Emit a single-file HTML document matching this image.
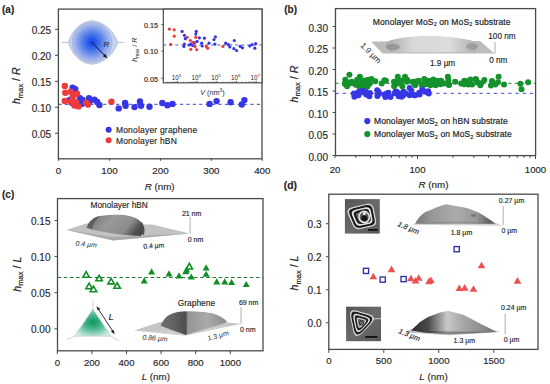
<!DOCTYPE html>
<html><head><meta charset="utf-8"><style>
html,body{margin:0;padding:0;background:#fff;}
svg{display:block;font-family:"Liberation Sans", sans-serif;}
</style></head><body>
<svg width="550" height="384" viewBox="0 0 550 384">
<rect width="550" height="384" fill="#fff"/>
<line x1="58.40" y1="104.30" x2="262.00" y2="104.30" stroke="#3a44d0" stroke-width="1.0" stroke-dasharray="3.2 3.2"/>
<circle cx="72.60" cy="87.70" r="3.2" fill="#3636e4" />
<circle cx="75.30" cy="89.10" r="3.2" fill="#3636e4" />
<circle cx="69.80" cy="100.00" r="3.2" fill="#3636e4" />
<circle cx="71.70" cy="102.80" r="3.2" fill="#3636e4" />
<circle cx="79.90" cy="98.20" r="3.2" fill="#3636e4" />
<circle cx="82.60" cy="100.00" r="3.2" fill="#3636e4" />
<circle cx="89.00" cy="98.20" r="3.2" fill="#3636e4" />
<circle cx="89.90" cy="100.90" r="3.2" fill="#3636e4" />
<circle cx="94.40" cy="99.60" r="3.2" fill="#3636e4" />
<circle cx="97.20" cy="101.90" r="3.2" fill="#3636e4" />
<circle cx="99.40" cy="105.00" r="3.2" fill="#3636e4" />
<circle cx="81.70" cy="104.10" r="3.2" fill="#3636e4" />
<circle cx="64.80" cy="85.90" r="3.2" fill="#ee3a3a" />
<circle cx="65.30" cy="92.80" r="3.2" fill="#ee3a3a" />
<circle cx="64.80" cy="100.90" r="3.2" fill="#ee3a3a" />
<circle cx="70.80" cy="91.80" r="3.2" fill="#ee3a3a" />
<circle cx="73.90" cy="94.60" r="3.2" fill="#ee3a3a" />
<circle cx="77.10" cy="93.70" r="3.2" fill="#ee3a3a" />
<circle cx="72.60" cy="97.30" r="3.2" fill="#ee3a3a" />
<circle cx="75.80" cy="102.30" r="3.2" fill="#ee3a3a" />
<circle cx="74.40" cy="105.50" r="3.2" fill="#ee3a3a" />
<circle cx="118.70" cy="108.40" r="3.2" fill="#3636e4" />
<circle cx="125.10" cy="103.00" r="3.2" fill="#3636e4" />
<circle cx="125.60" cy="105.80" r="3.2" fill="#3636e4" />
<circle cx="134.50" cy="107.10" r="3.2" fill="#3636e4" />
<circle cx="140.00" cy="101.40" r="3.2" fill="#3636e4" />
<circle cx="141.00" cy="105.80" r="3.2" fill="#3636e4" />
<circle cx="149.50" cy="106.80" r="3.2" fill="#3636e4" />
<circle cx="162.30" cy="103.00" r="3.2" fill="#3636e4" />
<circle cx="167.40" cy="105.20" r="3.2" fill="#3636e4" />
<circle cx="172.50" cy="103.90" r="3.2" fill="#3636e4" />
<circle cx="209.60" cy="103.90" r="3.2" fill="#3636e4" />
<circle cx="216.60" cy="101.10" r="3.2" fill="#3636e4" />
<circle cx="230.60" cy="102.30" r="3.2" fill="#3636e4" />
<circle cx="241.80" cy="104.50" r="3.2" fill="#3636e4" />
<circle cx="244.40" cy="100.10" r="3.2" fill="#3636e4" />
<circle cx="78.50" cy="106.40" r="3.2" fill="#ee3a3a" />
<circle cx="86.20" cy="102.80" r="3.2" fill="#ee3a3a" />
<circle cx="88.00" cy="104.60" r="3.2" fill="#ee3a3a" />
<circle cx="70.80" cy="101.90" r="3.2" fill="#ee3a3a" />
<circle cx="111.40" cy="101.70" r="3.2" fill="#ee3a3a" />
<rect x="58.40" y="9.10" width="203.60" height="149.70" fill="none" stroke="#4a4a4a" stroke-width="1.3"/>
<line x1="55.00" y1="133.23" x2="58.40" y2="133.23" stroke="#4a4a4a" stroke-width="1.0" />
<text x="51.20" y="137.73" font-size="10" text-anchor="end" fill="#262626" stroke="#262626" stroke-width="0.15" >0.05</text>
<line x1="55.00" y1="107.26" x2="58.40" y2="107.26" stroke="#4a4a4a" stroke-width="1.0" />
<text x="51.20" y="111.76" font-size="10" text-anchor="end" fill="#262626" stroke="#262626" stroke-width="0.15" >0.10</text>
<line x1="55.00" y1="81.29" x2="58.40" y2="81.29" stroke="#4a4a4a" stroke-width="1.0" />
<text x="51.20" y="85.79" font-size="10" text-anchor="end" fill="#262626" stroke="#262626" stroke-width="0.15" >0.15</text>
<line x1="55.00" y1="55.32" x2="58.40" y2="55.32" stroke="#4a4a4a" stroke-width="1.0" />
<text x="51.20" y="59.82" font-size="10" text-anchor="end" fill="#262626" stroke="#262626" stroke-width="0.15" >0.20</text>
<line x1="55.00" y1="29.35" x2="58.40" y2="29.35" stroke="#4a4a4a" stroke-width="1.0" />
<text x="51.20" y="33.85" font-size="10" text-anchor="end" fill="#262626" stroke="#262626" stroke-width="0.15" >0.25</text>
<line x1="58.60" y1="158.80" x2="58.60" y2="160.80" stroke="#4a4a4a" stroke-width="1.0" />
<text x="58.60" y="174.30" font-size="9.8" text-anchor="middle" fill="#262626" stroke="#262626" stroke-width="0.15" >0</text>
<line x1="109.53" y1="158.80" x2="109.53" y2="160.80" stroke="#4a4a4a" stroke-width="1.0" />
<text x="109.53" y="174.30" font-size="9.8" text-anchor="middle" fill="#262626" stroke="#262626" stroke-width="0.15" >100</text>
<line x1="160.46" y1="158.80" x2="160.46" y2="160.80" stroke="#4a4a4a" stroke-width="1.0" />
<text x="160.46" y="174.30" font-size="9.8" text-anchor="middle" fill="#262626" stroke="#262626" stroke-width="0.15" >200</text>
<line x1="211.39" y1="158.80" x2="211.39" y2="160.80" stroke="#4a4a4a" stroke-width="1.0" />
<text x="211.39" y="174.30" font-size="9.8" text-anchor="middle" fill="#262626" stroke="#262626" stroke-width="0.15" >300</text>
<line x1="262.32" y1="158.80" x2="262.32" y2="160.80" stroke="#4a4a4a" stroke-width="1.0" />
<text x="262.32" y="174.30" font-size="9.8" text-anchor="middle" fill="#262626" stroke="#262626" stroke-width="0.15" >400</text>
<text x="159.60" y="189.50" font-size="9.8" text-anchor="middle" fill="#262626" stroke="#262626" stroke-width="0.15" ><tspan font-style="italic">R</tspan> (nm)</text>
<text transform="translate(20.3,85.7) rotate(-90)" font-size="10.6" text-anchor="middle" fill="#262626" stroke="#262626" stroke-width="0.2"><tspan font-style="italic">h</tspan><tspan font-size="7.6" dy="2.4">max</tspan><tspan dy="-2.4"> / </tspan><tspan font-style="italic">R</tspan></text>
<text x="2.00" y="13.30" font-size="10" text-anchor="start" fill="#262626" stroke="#262626" stroke-width="0.15" font-weight="bold">(a)</text>
<circle cx="108.60" cy="129.80" r="3.0" fill="#3636e4" />
<circle cx="108.60" cy="140.30" r="3.0" fill="#ee3a3a" />
<text x="115.90" y="133.00" font-size="8.5" text-anchor="start" fill="#262626" stroke="#262626" stroke-width="0.15" letter-spacing="0.2">Monolayer graphene</text>
<text x="115.90" y="143.50" font-size="8.5" text-anchor="start" fill="#262626" stroke="#262626" stroke-width="0.15" letter-spacing="0.2">Monolayer hBN</text>
<defs>
<radialGradient id="gblue" cx="0.5" cy="0.5" r="0.5">
<stop offset="0" stop-color="#0c40e8"/><stop offset="0.5" stop-color="#5580ea"/><stop offset="0.85" stop-color="#9ab0ec"/><stop offset="1" stop-color="#b4c4ee"/>
</radialGradient>
<radialGradient id="ggreen" cx="0.5" cy="0.62" r="0.55">
<stop offset="0" stop-color="#0c9a5a"/><stop offset="0.6" stop-color="#55bb99"/><stop offset="1" stop-color="#c4e8dc"/>
</radialGradient>
</defs>
<path d="M68.4,42.4 C71.5,33 78,22 92.1,20.7 C106,22 114.5,33 117.9,42.4 C114.5,52 106,63 92.1,64.3 C78,63 71.5,52 68.4,42.4 Z" fill="#c4d2f2" stroke="#b4c0dc" stroke-width="0.9"/>
<path d="M61.5,42.4 L68.4,42.4 M117.9,42.4 L124.5,42.4" stroke="#b8c4dc" stroke-width="1"/>
<circle cx="92.10" cy="42.40" r="19.8" fill="url(#gblue)" stroke="#a8b6d8" stroke-width="1.0"/>
<line x1="91.8" y1="42.4" x2="105" y2="55.8" stroke="#111" stroke-width="1.0"/>
<path d="M107.3,58.2 L102.9,56.2 L105.3,53.8 Z" fill="#111"/>
<text x="103.5" y="47" font-size="8" font-style="italic" fill="#1a1a2a">R</text>
<rect x="163.3" y="9.1" width="98.69999999999999" height="73.7" fill="#fff" stroke="#4a4a4a" stroke-width="1.2"/>
<line x1="163.30" y1="45.00" x2="262.00" y2="45.00" stroke="#3a44d0" stroke-width="0.9" stroke-dasharray="3 3"/>
<circle cx="169.40" cy="29.10" r="1.6" fill="#ee3a3a" />
<circle cx="174.20" cy="29.80" r="1.6" fill="#ee3a3a" />
<circle cx="174.20" cy="36.20" r="1.6" fill="#ee3a3a" />
<circle cx="170.70" cy="44.40" r="1.6" fill="#ee3a3a" />
<circle cx="187.10" cy="37.30" r="1.6" fill="#ee3a3a" />
<circle cx="190.30" cy="40.50" r="1.6" fill="#ee3a3a" />
<circle cx="195.80" cy="37.30" r="1.6" fill="#ee3a3a" />
<circle cx="182.10" cy="31.40" r="1.6" fill="#3636e4" />
<circle cx="184.40" cy="35.30" r="1.6" fill="#3636e4" />
<circle cx="185.30" cy="38.70" r="1.6" fill="#3636e4" />
<circle cx="184.40" cy="44.10" r="1.6" fill="#3636e4" />
<circle cx="183.90" cy="46.40" r="1.6" fill="#3636e4" />
<circle cx="196.20" cy="31.40" r="1.6" fill="#3636e4" />
<circle cx="195.80" cy="34.10" r="1.6" fill="#3636e4" />
<circle cx="199.40" cy="37.80" r="1.6" fill="#3636e4" />
<circle cx="204.40" cy="38.20" r="1.6" fill="#3636e4" />
<circle cx="197.10" cy="41.40" r="1.6" fill="#3636e4" />
<circle cx="194.40" cy="42.80" r="1.6" fill="#3636e4" />
<circle cx="190.80" cy="44.10" r="1.6" fill="#3636e4" />
<circle cx="201.70" cy="43.20" r="1.6" fill="#3636e4" />
<circle cx="202.20" cy="46.00" r="1.6" fill="#3636e4" />
<circle cx="209.00" cy="43.20" r="1.6" fill="#3636e4" />
<circle cx="215.40" cy="36.80" r="1.6" fill="#3636e4" />
<circle cx="214.00" cy="39.60" r="1.6" fill="#3636e4" />
<circle cx="214.90" cy="44.10" r="1.6" fill="#3636e4" />
<circle cx="189.00" cy="45.00" r="1.6" fill="#3636e4" />
<circle cx="192.60" cy="45.50" r="1.6" fill="#3636e4" />
<circle cx="225.70" cy="43.20" r="1.6" fill="#3636e4" />
<circle cx="228.40" cy="44.60" r="1.6" fill="#3636e4" />
<circle cx="229.80" cy="46.90" r="1.6" fill="#3636e4" />
<circle cx="234.30" cy="40.50" r="1.6" fill="#3636e4" />
<circle cx="233.90" cy="48.70" r="1.6" fill="#3636e4" />
<circle cx="236.60" cy="50.50" r="1.6" fill="#3636e4" />
<circle cx="240.20" cy="46.40" r="1.6" fill="#3636e4" />
<circle cx="242.50" cy="47.80" r="1.6" fill="#3636e4" />
<circle cx="249.80" cy="46.00" r="1.6" fill="#3636e4" />
<circle cx="252.10" cy="44.60" r="1.6" fill="#3636e4" />
<circle cx="255.70" cy="43.70" r="1.6" fill="#3636e4" />
<circle cx="254.80" cy="48.20" r="1.6" fill="#3636e4" />
<circle cx="190.80" cy="49.30" r="1.6" fill="#ee3a3a" />
<circle cx="196.70" cy="49.60" r="1.6" fill="#ee3a3a" />
<circle cx="194.90" cy="46.40" r="1.6" fill="#ee3a3a" />
<circle cx="206.30" cy="46.40" r="1.6" fill="#ee3a3a" />
<circle cx="207.60" cy="48.20" r="1.6" fill="#ee3a3a" />
<circle cx="193.00" cy="42.30" r="1.6" fill="#ee3a3a" />
<circle cx="222.90" cy="46.40" r="1.6" fill="#ee3a3a" />
<line x1="161.30" y1="78.30" x2="163.30" y2="78.30" stroke="#4a4a4a" stroke-width="0.9" />
<text x="158.00" y="81.60" font-size="7.2" text-anchor="end" fill="#262626" stroke="#262626" stroke-width="0.15" >0.05</text>
<line x1="161.30" y1="51.10" x2="163.30" y2="51.10" stroke="#4a4a4a" stroke-width="0.9" />
<text x="158.00" y="54.40" font-size="7.2" text-anchor="end" fill="#262626" stroke="#262626" stroke-width="0.15" >0.10</text>
<line x1="161.30" y1="24.60" x2="163.30" y2="24.60" stroke="#4a4a4a" stroke-width="0.9" />
<text x="158.00" y="27.90" font-size="7.2" text-anchor="end" fill="#262626" stroke="#262626" stroke-width="0.15" >0.15</text>
<line x1="177.50" y1="82.80" x2="177.50" y2="80.80" stroke="#4a4a4a" stroke-width="0.8" />
<line x1="183.43" y1="82.80" x2="183.43" y2="81.60" stroke="#4a4a4a" stroke-width="0.6" />
<line x1="186.90" y1="82.80" x2="186.90" y2="81.60" stroke="#4a4a4a" stroke-width="0.6" />
<line x1="189.36" y1="82.80" x2="189.36" y2="81.60" stroke="#4a4a4a" stroke-width="0.6" />
<line x1="191.27" y1="82.80" x2="191.27" y2="81.60" stroke="#4a4a4a" stroke-width="0.6" />
<line x1="192.83" y1="82.80" x2="192.83" y2="81.60" stroke="#4a4a4a" stroke-width="0.6" />
<line x1="194.15" y1="82.80" x2="194.15" y2="81.60" stroke="#4a4a4a" stroke-width="0.6" />
<line x1="195.29" y1="82.80" x2="195.29" y2="81.60" stroke="#4a4a4a" stroke-width="0.6" />
<line x1="196.30" y1="82.80" x2="196.30" y2="81.60" stroke="#4a4a4a" stroke-width="0.6" />
<text x="176.50" y="79.9" font-size="6.3" text-anchor="middle" fill="#262626">10<tspan font-size="4.3" dy="-2.8">3</tspan></text>
<line x1="197.20" y1="82.80" x2="197.20" y2="80.80" stroke="#4a4a4a" stroke-width="0.8" />
<line x1="203.13" y1="82.80" x2="203.13" y2="81.60" stroke="#4a4a4a" stroke-width="0.6" />
<line x1="206.60" y1="82.80" x2="206.60" y2="81.60" stroke="#4a4a4a" stroke-width="0.6" />
<line x1="209.06" y1="82.80" x2="209.06" y2="81.60" stroke="#4a4a4a" stroke-width="0.6" />
<line x1="210.97" y1="82.80" x2="210.97" y2="81.60" stroke="#4a4a4a" stroke-width="0.6" />
<line x1="212.53" y1="82.80" x2="212.53" y2="81.60" stroke="#4a4a4a" stroke-width="0.6" />
<line x1="213.85" y1="82.80" x2="213.85" y2="81.60" stroke="#4a4a4a" stroke-width="0.6" />
<line x1="214.99" y1="82.80" x2="214.99" y2="81.60" stroke="#4a4a4a" stroke-width="0.6" />
<line x1="216.00" y1="82.80" x2="216.00" y2="81.60" stroke="#4a4a4a" stroke-width="0.6" />
<text x="196.20" y="79.9" font-size="6.3" text-anchor="middle" fill="#262626">10<tspan font-size="4.3" dy="-2.8">4</tspan></text>
<line x1="216.90" y1="82.80" x2="216.90" y2="80.80" stroke="#4a4a4a" stroke-width="0.8" />
<line x1="222.83" y1="82.80" x2="222.83" y2="81.60" stroke="#4a4a4a" stroke-width="0.6" />
<line x1="226.30" y1="82.80" x2="226.30" y2="81.60" stroke="#4a4a4a" stroke-width="0.6" />
<line x1="228.76" y1="82.80" x2="228.76" y2="81.60" stroke="#4a4a4a" stroke-width="0.6" />
<line x1="230.67" y1="82.80" x2="230.67" y2="81.60" stroke="#4a4a4a" stroke-width="0.6" />
<line x1="232.23" y1="82.80" x2="232.23" y2="81.60" stroke="#4a4a4a" stroke-width="0.6" />
<line x1="233.55" y1="82.80" x2="233.55" y2="81.60" stroke="#4a4a4a" stroke-width="0.6" />
<line x1="234.69" y1="82.80" x2="234.69" y2="81.60" stroke="#4a4a4a" stroke-width="0.6" />
<line x1="235.70" y1="82.80" x2="235.70" y2="81.60" stroke="#4a4a4a" stroke-width="0.6" />
<text x="215.90" y="79.9" font-size="6.3" text-anchor="middle" fill="#262626">10<tspan font-size="4.3" dy="-2.8">5</tspan></text>
<line x1="236.60" y1="82.80" x2="236.60" y2="80.80" stroke="#4a4a4a" stroke-width="0.8" />
<line x1="242.53" y1="82.80" x2="242.53" y2="81.60" stroke="#4a4a4a" stroke-width="0.6" />
<line x1="246.00" y1="82.80" x2="246.00" y2="81.60" stroke="#4a4a4a" stroke-width="0.6" />
<line x1="248.46" y1="82.80" x2="248.46" y2="81.60" stroke="#4a4a4a" stroke-width="0.6" />
<line x1="250.37" y1="82.80" x2="250.37" y2="81.60" stroke="#4a4a4a" stroke-width="0.6" />
<line x1="251.93" y1="82.80" x2="251.93" y2="81.60" stroke="#4a4a4a" stroke-width="0.6" />
<line x1="253.25" y1="82.80" x2="253.25" y2="81.60" stroke="#4a4a4a" stroke-width="0.6" />
<line x1="254.39" y1="82.80" x2="254.39" y2="81.60" stroke="#4a4a4a" stroke-width="0.6" />
<line x1="255.40" y1="82.80" x2="255.40" y2="81.60" stroke="#4a4a4a" stroke-width="0.6" />
<text x="235.60" y="79.9" font-size="6.3" text-anchor="middle" fill="#262626">10<tspan font-size="4.3" dy="-2.8">6</tspan></text>
<line x1="256.30" y1="82.80" x2="256.30" y2="80.80" stroke="#4a4a4a" stroke-width="0.8" />
<text x="255.30" y="79.9" font-size="6.3" text-anchor="middle" fill="#262626">10<tspan font-size="4.3" dy="-2.8">7</tspan></text>
<line x1="167.20" y1="82.80" x2="167.20" y2="81.60" stroke="#4a4a4a" stroke-width="0.6" />
<line x1="169.66" y1="82.80" x2="169.66" y2="81.60" stroke="#4a4a4a" stroke-width="0.6" />
<line x1="171.57" y1="82.80" x2="171.57" y2="81.60" stroke="#4a4a4a" stroke-width="0.6" />
<line x1="173.13" y1="82.80" x2="173.13" y2="81.60" stroke="#4a4a4a" stroke-width="0.6" />
<line x1="174.45" y1="82.80" x2="174.45" y2="81.60" stroke="#4a4a4a" stroke-width="0.6" />
<line x1="175.59" y1="82.80" x2="175.59" y2="81.60" stroke="#4a4a4a" stroke-width="0.6" />
<line x1="176.60" y1="82.80" x2="176.60" y2="81.60" stroke="#4a4a4a" stroke-width="0.6" />
<text x="212.5" y="95" font-size="7.2" text-anchor="middle" fill="#262626"><tspan font-style="italic">V</tspan> (nm<tspan font-size="5" dy="-3">3</tspan><tspan dy="3">)</tspan></text>
<text transform="translate(137.3,49.6) rotate(-90)" font-size="7.2" text-anchor="middle" fill="#262626"><tspan font-style="italic">h</tspan><tspan font-size="4.8" dy="1.6">max</tspan><tspan dy="-1.6"> / </tspan><tspan font-style="italic">R</tspan></text>
<line x1="335.50" y1="83.30" x2="535.60" y2="83.30" stroke="#1d8a3a" stroke-width="1.0" stroke-dasharray="3.2 3.2"/>
<line x1="335.50" y1="93.30" x2="535.60" y2="93.30" stroke="#3a44d0" stroke-width="1.0" stroke-dasharray="3.2 4"/>
<circle cx="353.90" cy="93.50" r="3.0" fill="#3636e4" />
<circle cx="354.40" cy="96.70" r="3.0" fill="#3636e4" />
<circle cx="358.50" cy="95.30" r="3.0" fill="#3636e4" />
<circle cx="361.70" cy="89.90" r="3.0" fill="#3636e4" />
<circle cx="365.30" cy="88.90" r="3.0" fill="#3636e4" />
<circle cx="366.20" cy="94.40" r="3.0" fill="#3636e4" />
<circle cx="369.90" cy="93.00" r="3.0" fill="#3636e4" />
<circle cx="369.40" cy="96.20" r="3.0" fill="#3636e4" />
<circle cx="377.20" cy="90.30" r="3.0" fill="#3636e4" />
<circle cx="379.00" cy="93.50" r="3.0" fill="#3636e4" />
<circle cx="384.40" cy="94.40" r="3.0" fill="#3636e4" />
<circle cx="385.40" cy="97.10" r="3.0" fill="#3636e4" />
<circle cx="386.80" cy="93.50" r="3.0" fill="#3636e4" />
<circle cx="390.50" cy="97.10" r="3.0" fill="#3636e4" />
<circle cx="396.80" cy="91.70" r="3.0" fill="#3636e4" />
<circle cx="398.70" cy="96.20" r="3.0" fill="#3636e4" />
<circle cx="403.20" cy="95.30" r="3.0" fill="#3636e4" />
<circle cx="409.60" cy="88.00" r="3.0" fill="#3636e4" />
<circle cx="411.40" cy="90.80" r="3.0" fill="#3636e4" />
<circle cx="409.60" cy="95.30" r="3.0" fill="#3636e4" />
<circle cx="415.10" cy="95.30" r="3.0" fill="#3636e4" />
<circle cx="419.60" cy="94.40" r="3.0" fill="#3636e4" />
<circle cx="422.30" cy="88.90" r="3.0" fill="#3636e4" />
<circle cx="425.10" cy="91.70" r="3.0" fill="#3636e4" />
<circle cx="428.70" cy="93.50" r="3.0" fill="#3636e4" />
<circle cx="378.61" cy="91.91" r="3.0" fill="#3636e4" />
<circle cx="403.47" cy="91.43" r="3.0" fill="#3636e4" />
<circle cx="394.73" cy="93.19" r="3.0" fill="#3636e4" />
<circle cx="358.41" cy="94.04" r="3.0" fill="#3636e4" />
<circle cx="356.85" cy="93.60" r="3.0" fill="#3636e4" />
<circle cx="359.31" cy="91.54" r="3.0" fill="#3636e4" />
<circle cx="386.26" cy="95.96" r="3.0" fill="#3636e4" />
<circle cx="363.41" cy="92.34" r="3.0" fill="#3636e4" />
<circle cx="401.68" cy="96.69" r="3.0" fill="#3636e4" />
<circle cx="397.86" cy="93.38" r="3.0" fill="#3636e4" />
<circle cx="428.20" cy="91.28" r="3.0" fill="#3636e4" />
<circle cx="419.24" cy="92.74" r="3.0" fill="#3636e4" />
<circle cx="364.96" cy="91.71" r="3.0" fill="#3636e4" />
<circle cx="377.44" cy="95.90" r="3.0" fill="#3636e4" />
<circle cx="367.74" cy="94.49" r="3.0" fill="#3636e4" />
<circle cx="402.56" cy="93.23" r="3.0" fill="#3636e4" />
<circle cx="395.63" cy="91.38" r="3.0" fill="#3636e4" />
<circle cx="358.53" cy="92.24" r="3.0" fill="#3636e4" />
<circle cx="405.71" cy="93.57" r="3.0" fill="#3636e4" />
<circle cx="377.88" cy="94.51" r="3.0" fill="#3636e4" />
<circle cx="388.44" cy="92.80" r="3.0" fill="#3636e4" />
<circle cx="414.37" cy="95.19" r="3.0" fill="#3636e4" />
<circle cx="349.40" cy="74.80" r="3.0" fill="#14922c" />
<circle cx="359.90" cy="76.70" r="3.0" fill="#14922c" />
<circle cx="345.30" cy="79.80" r="3.0" fill="#14922c" />
<circle cx="344.80" cy="83.50" r="3.0" fill="#14922c" />
<circle cx="347.10" cy="86.20" r="3.0" fill="#14922c" />
<circle cx="351.70" cy="81.70" r="3.0" fill="#14922c" />
<circle cx="354.80" cy="83.50" r="3.0" fill="#14922c" />
<circle cx="357.10" cy="79.80" r="3.0" fill="#14922c" />
<circle cx="360.30" cy="83.00" r="3.0" fill="#14922c" />
<circle cx="363.50" cy="85.30" r="3.0" fill="#14922c" />
<circle cx="368.00" cy="79.80" r="3.0" fill="#14922c" />
<circle cx="369.90" cy="83.50" r="3.0" fill="#14922c" />
<circle cx="375.30" cy="81.20" r="3.0" fill="#14922c" />
<circle cx="381.70" cy="83.50" r="3.0" fill="#14922c" />
<circle cx="384.40" cy="80.30" r="3.0" fill="#14922c" />
<circle cx="385.90" cy="80.80" r="3.0" fill="#14922c" />
<circle cx="397.80" cy="76.70" r="3.0" fill="#14922c" />
<circle cx="405.00" cy="76.70" r="3.0" fill="#14922c" />
<circle cx="395.00" cy="81.70" r="3.0" fill="#14922c" />
<circle cx="401.40" cy="80.80" r="3.0" fill="#14922c" />
<circle cx="406.90" cy="81.70" r="3.0" fill="#14922c" />
<circle cx="394.10" cy="86.20" r="3.0" fill="#14922c" />
<circle cx="402.30" cy="86.20" r="3.0" fill="#14922c" />
<circle cx="414.10" cy="81.70" r="3.0" fill="#14922c" />
<circle cx="418.70" cy="80.80" r="3.0" fill="#14922c" />
<circle cx="424.20" cy="78.90" r="3.0" fill="#14922c" />
<circle cx="428.70" cy="80.80" r="3.0" fill="#14922c" />
<circle cx="433.30" cy="79.40" r="3.0" fill="#14922c" />
<circle cx="415.10" cy="85.30" r="3.0" fill="#14922c" />
<circle cx="421.40" cy="84.40" r="3.0" fill="#14922c" />
<circle cx="430.50" cy="85.30" r="3.0" fill="#14922c" />
<circle cx="432.90" cy="81.70" r="3.0" fill="#14922c" />
<circle cx="435.60" cy="85.30" r="3.0" fill="#14922c" />
<circle cx="437.50" cy="80.80" r="3.0" fill="#14922c" />
<circle cx="441.10" cy="80.80" r="3.0" fill="#14922c" />
<circle cx="443.80" cy="83.50" r="3.0" fill="#14922c" />
<circle cx="447.90" cy="76.70" r="3.0" fill="#14922c" />
<circle cx="448.40" cy="80.30" r="3.0" fill="#14922c" />
<circle cx="448.80" cy="84.80" r="3.0" fill="#14922c" />
<circle cx="455.20" cy="81.70" r="3.0" fill="#14922c" />
<circle cx="461.10" cy="83.50" r="3.0" fill="#14922c" />
<circle cx="465.70" cy="81.20" r="3.0" fill="#14922c" />
<circle cx="470.30" cy="79.40" r="3.0" fill="#14922c" />
<circle cx="468.40" cy="84.40" r="3.0" fill="#14922c" />
<circle cx="472.10" cy="84.40" r="3.0" fill="#14922c" />
<circle cx="475.70" cy="78.90" r="3.0" fill="#14922c" />
<circle cx="477.50" cy="82.60" r="3.0" fill="#14922c" />
<circle cx="480.30" cy="85.30" r="3.0" fill="#14922c" />
<circle cx="481.10" cy="83.30" r="3.0" fill="#14922c" />
<circle cx="484.40" cy="80.00" r="3.0" fill="#14922c" />
<circle cx="492.00" cy="81.10" r="3.0" fill="#14922c" />
<circle cx="490.90" cy="85.50" r="3.0" fill="#14922c" />
<circle cx="498.60" cy="76.70" r="3.0" fill="#14922c" />
<circle cx="498.00" cy="82.20" r="3.0" fill="#14922c" />
<circle cx="495.30" cy="84.40" r="3.0" fill="#14922c" />
<circle cx="504.00" cy="84.40" r="3.0" fill="#14922c" />
<circle cx="520.40" cy="83.80" r="3.0" fill="#14922c" />
<circle cx="521.50" cy="89.30" r="3.0" fill="#14922c" />
<circle cx="528.10" cy="82.20" r="3.0" fill="#14922c" />
<circle cx="350.83" cy="83.17" r="3.0" fill="#14922c" />
<circle cx="358.71" cy="85.88" r="3.0" fill="#14922c" />
<circle cx="364.42" cy="80.59" r="3.0" fill="#14922c" />
<circle cx="371.44" cy="79.06" r="3.0" fill="#14922c" />
<circle cx="355.71" cy="84.81" r="3.0" fill="#14922c" />
<circle cx="348.26" cy="82.40" r="3.0" fill="#14922c" />
<circle cx="345.10" cy="84.01" r="3.0" fill="#14922c" />
<circle cx="365.41" cy="83.16" r="3.0" fill="#14922c" />
<circle cx="368.51" cy="80.82" r="3.0" fill="#14922c" />
<circle cx="363.47" cy="83.35" r="3.0" fill="#14922c" />
<circle cx="360.24" cy="82.11" r="3.0" fill="#14922c" />
<circle cx="367.52" cy="86.50" r="3.0" fill="#14922c" />
<circle cx="433.72" cy="82.98" r="3.0" fill="#14922c" />
<circle cx="397.34" cy="83.21" r="3.0" fill="#14922c" />
<circle cx="448.95" cy="84.96" r="3.0" fill="#14922c" />
<circle cx="464.33" cy="80.71" r="3.0" fill="#14922c" />
<circle cx="425.95" cy="83.01" r="3.0" fill="#14922c" />
<circle cx="393.99" cy="81.77" r="3.0" fill="#14922c" />
<circle cx="406.79" cy="79.70" r="3.0" fill="#14922c" />
<circle cx="397.19" cy="83.61" r="3.0" fill="#14922c" />
<circle cx="403.38" cy="80.49" r="3.0" fill="#14922c" />
<circle cx="426.40" cy="84.23" r="3.0" fill="#14922c" />
<circle cx="399.09" cy="81.70" r="3.0" fill="#14922c" />
<circle cx="440.35" cy="84.30" r="3.0" fill="#14922c" />
<circle cx="464.10" cy="84.18" r="3.0" fill="#14922c" />
<circle cx="416.50" cy="81.49" r="3.0" fill="#14922c" />
<circle cx="423.57" cy="84.31" r="3.0" fill="#14922c" />
<circle cx="476.28" cy="79.91" r="3.0" fill="#14922c" />
<circle cx="407.51" cy="80.39" r="3.0" fill="#14922c" />
<circle cx="412.53" cy="81.91" r="3.0" fill="#14922c" />
<rect x="335.50" y="8.60" width="200.10" height="147.00" fill="none" stroke="#4a4a4a" stroke-width="1.3"/>
<line x1="332.50" y1="155.50" x2="335.50" y2="155.50" stroke="#4a4a4a" stroke-width="1.0" />
<text x="328.00" y="160.50" font-size="10" text-anchor="end" fill="#262626" stroke="#262626" stroke-width="0.15" >0.00</text>
<line x1="332.50" y1="134.00" x2="335.50" y2="134.00" stroke="#4a4a4a" stroke-width="1.0" />
<text x="328.00" y="139.00" font-size="10" text-anchor="end" fill="#262626" stroke="#262626" stroke-width="0.15" >0.05</text>
<line x1="332.50" y1="112.50" x2="335.50" y2="112.50" stroke="#4a4a4a" stroke-width="1.0" />
<text x="328.00" y="117.50" font-size="10" text-anchor="end" fill="#262626" stroke="#262626" stroke-width="0.15" >0.10</text>
<line x1="332.50" y1="91.00" x2="335.50" y2="91.00" stroke="#4a4a4a" stroke-width="1.0" />
<text x="328.00" y="96.00" font-size="10" text-anchor="end" fill="#262626" stroke="#262626" stroke-width="0.15" >0.15</text>
<line x1="332.50" y1="69.50" x2="335.50" y2="69.50" stroke="#4a4a4a" stroke-width="1.0" />
<text x="328.00" y="74.50" font-size="10" text-anchor="end" fill="#262626" stroke="#262626" stroke-width="0.15" >0.20</text>
<line x1="332.50" y1="48.00" x2="335.50" y2="48.00" stroke="#4a4a4a" stroke-width="1.0" />
<text x="328.00" y="53.00" font-size="10" text-anchor="end" fill="#262626" stroke="#262626" stroke-width="0.15" >0.25</text>
<line x1="332.50" y1="26.50" x2="335.50" y2="26.50" stroke="#4a4a4a" stroke-width="1.0" />
<text x="328.00" y="31.50" font-size="10" text-anchor="end" fill="#262626" stroke="#262626" stroke-width="0.15" >0.30</text>
<line x1="335.02" y1="155.60" x2="335.02" y2="157.90" stroke="#4a4a4a" stroke-width="1.0" />
<line x1="355.80" y1="155.60" x2="355.80" y2="157.90" stroke="#4a4a4a" stroke-width="1.0" />
<line x1="370.54" y1="155.60" x2="370.54" y2="157.90" stroke="#4a4a4a" stroke-width="1.0" />
<line x1="381.98" y1="155.60" x2="381.98" y2="157.90" stroke="#4a4a4a" stroke-width="1.0" />
<line x1="391.32" y1="155.60" x2="391.32" y2="157.90" stroke="#4a4a4a" stroke-width="1.0" />
<line x1="399.22" y1="155.60" x2="399.22" y2="157.90" stroke="#4a4a4a" stroke-width="1.0" />
<line x1="406.06" y1="155.60" x2="406.06" y2="157.90" stroke="#4a4a4a" stroke-width="1.0" />
<line x1="412.10" y1="155.60" x2="412.10" y2="157.90" stroke="#4a4a4a" stroke-width="1.0" />
<line x1="417.50" y1="155.60" x2="417.50" y2="159.10" stroke="#4a4a4a" stroke-width="1.0" />
<line x1="453.02" y1="155.60" x2="453.02" y2="157.90" stroke="#4a4a4a" stroke-width="1.0" />
<line x1="473.80" y1="155.60" x2="473.80" y2="157.90" stroke="#4a4a4a" stroke-width="1.0" />
<line x1="488.54" y1="155.60" x2="488.54" y2="157.90" stroke="#4a4a4a" stroke-width="1.0" />
<line x1="499.98" y1="155.60" x2="499.98" y2="157.90" stroke="#4a4a4a" stroke-width="1.0" />
<line x1="509.32" y1="155.60" x2="509.32" y2="157.90" stroke="#4a4a4a" stroke-width="1.0" />
<line x1="517.22" y1="155.60" x2="517.22" y2="157.90" stroke="#4a4a4a" stroke-width="1.0" />
<line x1="524.06" y1="155.60" x2="524.06" y2="157.90" stroke="#4a4a4a" stroke-width="1.0" />
<line x1="530.10" y1="155.60" x2="530.10" y2="157.90" stroke="#4a4a4a" stroke-width="1.0" />
<line x1="535.50" y1="155.60" x2="535.50" y2="159.10" stroke="#4a4a4a" stroke-width="1.0" />
<text x="335.02" y="173.30" font-size="9.6" text-anchor="middle" fill="#262626" stroke="#262626" stroke-width="0.15" >20</text>
<text x="417.50" y="173.30" font-size="9.6" text-anchor="middle" fill="#262626" stroke="#262626" stroke-width="0.15" >100</text>
<text x="535.50" y="173.30" font-size="9.6" text-anchor="middle" fill="#262626" stroke="#262626" stroke-width="0.15" >1000</text>
<text x="433.50" y="187.60" font-size="9.8" text-anchor="middle" fill="#262626" stroke="#262626" stroke-width="0.15" ><tspan font-style="italic">R</tspan> (nm)</text>
<text transform="translate(297.8,84) rotate(-90)" font-size="10.6" text-anchor="middle" fill="#262626" stroke="#262626" stroke-width="0.2"><tspan font-style="italic">h</tspan><tspan font-size="7.6" dy="2.4">max</tspan><tspan dy="-2.4"> / </tspan><tspan font-style="italic">R</tspan></text>
<text x="284.20" y="13.00" font-size="10" text-anchor="start" fill="#262626" stroke="#262626" stroke-width="0.15" font-weight="bold">(b)</text>
<circle cx="367.30" cy="121.10" r="3.1" fill="#3636e4" />
<circle cx="367.30" cy="134.10" r="3.1" fill="#14922c" />
<text x="374" y="124.1" font-size="8.5" letter-spacing="0.1" fill="#262626" stroke="#262626" stroke-width="0.2">Monolayer MoS<tspan font-size="5.5" dy="1.6">2</tspan><tspan dy="-1.6"> on hBN substrate</tspan></text>
<text x="374" y="137.1" font-size="8.5" letter-spacing="0.1" fill="#262626" stroke="#262626" stroke-width="0.2">Monolayer MoS<tspan font-size="5.5" dy="1.6">2</tspan><tspan dy="-1.6"> on MoS</tspan><tspan font-size="5.5" dy="1.6">2</tspan><tspan dy="-1.6"> substrate</tspan></text>
<text x="372.8" y="24.8" font-size="8.5" letter-spacing="0.1" fill="#262626" stroke="#262626" stroke-width="0.2">Monolayer MoS<tspan font-size="5.5" dy="1.6">2</tspan><tspan dy="-1.6"> on MoS</tspan><tspan font-size="5.5" dy="1.6">2</tspan><tspan dy="-1.6"> substrate</tspan></text>
<line x1="57.50" y1="277.50" x2="263.00" y2="277.50" stroke="#1f7a34" stroke-width="1.0" stroke-dasharray="3.6 2.6"/>
<rect x="57.50" y="198.60" width="205.50" height="152.20" fill="none" stroke="#4a4a4a" stroke-width="1.3"/>
<line x1="54.50" y1="328.80" x2="57.50" y2="328.80" stroke="#4a4a4a" stroke-width="1.0" />
<text x="50.50" y="333.40" font-size="10" text-anchor="end" fill="#262626" stroke="#262626" stroke-width="0.15" >0.00</text>
<line x1="54.50" y1="292.70" x2="57.50" y2="292.70" stroke="#4a4a4a" stroke-width="1.0" />
<text x="50.50" y="297.30" font-size="10" text-anchor="end" fill="#262626" stroke="#262626" stroke-width="0.15" >0.05</text>
<line x1="54.50" y1="256.60" x2="57.50" y2="256.60" stroke="#4a4a4a" stroke-width="1.0" />
<text x="50.50" y="261.20" font-size="10" text-anchor="end" fill="#262626" stroke="#262626" stroke-width="0.15" >0.10</text>
<line x1="54.50" y1="220.50" x2="57.50" y2="220.50" stroke="#4a4a4a" stroke-width="1.0" />
<text x="50.50" y="225.10" font-size="10" text-anchor="end" fill="#262626" stroke="#262626" stroke-width="0.15" >0.15</text>
<line x1="57.30" y1="350.80" x2="57.30" y2="354.30" stroke="#4a4a4a" stroke-width="1.0" />
<text x="57.30" y="365.80" font-size="9.6" text-anchor="middle" fill="#262626" stroke="#262626" stroke-width="0.15" >0</text>
<line x1="91.90" y1="350.80" x2="91.90" y2="354.30" stroke="#4a4a4a" stroke-width="1.0" />
<text x="91.90" y="365.80" font-size="9.6" text-anchor="middle" fill="#262626" stroke="#262626" stroke-width="0.15" >200</text>
<line x1="126.50" y1="350.80" x2="126.50" y2="354.30" stroke="#4a4a4a" stroke-width="1.0" />
<text x="126.50" y="365.80" font-size="9.6" text-anchor="middle" fill="#262626" stroke="#262626" stroke-width="0.15" >400</text>
<line x1="161.10" y1="350.80" x2="161.10" y2="354.30" stroke="#4a4a4a" stroke-width="1.0" />
<text x="161.10" y="365.80" font-size="9.6" text-anchor="middle" fill="#262626" stroke="#262626" stroke-width="0.15" >600</text>
<line x1="195.70" y1="350.80" x2="195.70" y2="354.30" stroke="#4a4a4a" stroke-width="1.0" />
<text x="195.70" y="365.80" font-size="9.6" text-anchor="middle" fill="#262626" stroke="#262626" stroke-width="0.15" >800</text>
<line x1="230.30" y1="350.80" x2="230.30" y2="354.30" stroke="#4a4a4a" stroke-width="1.0" />
<text x="230.30" y="365.80" font-size="9.6" text-anchor="middle" fill="#262626" stroke="#262626" stroke-width="0.15" >1000</text>
<text x="155.80" y="379.80" font-size="9.8" text-anchor="middle" fill="#262626" stroke="#262626" stroke-width="0.15" ><tspan font-style="italic">L</tspan> (nm)</text>
<text transform="translate(20.5,274.2) rotate(-90)" font-size="10.6" text-anchor="middle" fill="#262626" stroke="#262626" stroke-width="0.2"><tspan font-style="italic">h</tspan><tspan font-size="7.6" dy="2.4">max</tspan><tspan dy="-2.4"> / </tspan><tspan font-style="italic">L</tspan></text>
<text x="2.00" y="197.80" font-size="10" text-anchor="start" fill="#262626" stroke="#262626" stroke-width="0.15" font-weight="bold">(c)</text>
<polygon points="144.20,277.36 147.70,283.42 140.70,283.42" fill="#0e8e24"/>
<polygon points="151.60,268.36 155.10,274.42 148.10,274.42" fill="#0e8e24"/>
<polygon points="169.00,270.36 172.50,276.42 165.50,276.42" fill="#0e8e24"/>
<polygon points="179.00,272.36 182.50,278.42 175.50,278.42" fill="#0e8e24"/>
<polygon points="185.80,268.16 189.30,274.22 182.30,274.22" fill="#0e8e24"/>
<polygon points="191.30,273.56 194.80,279.62 187.80,279.62" fill="#0e8e24"/>
<polygon points="206.10,264.36 209.60,270.42 202.60,270.42" fill="#0e8e24"/>
<polygon points="206.10,270.76 209.60,276.82 202.60,276.82" fill="#0e8e24"/>
<polygon points="216.70,278.36 220.20,284.42 213.20,284.42" fill="#0e8e24"/>
<polygon points="224.70,278.36 228.20,284.42 221.20,284.42" fill="#0e8e24"/>
<polygon points="231.60,279.06 235.10,285.12 228.10,285.12" fill="#0e8e24"/>
<polygon points="246.20,281.06 249.70,287.12 242.70,287.12" fill="#0e8e24"/>
<polygon points="86.10,271.67 89.30,277.22 82.90,277.22" fill="#fff" stroke="#0e8e24" stroke-width="1.6" stroke-linejoin="miter"/>
<polygon points="99.10,275.27 102.30,280.82 95.90,280.82" fill="#fff" stroke="#0e8e24" stroke-width="1.6" stroke-linejoin="miter"/>
<polygon points="89.10,283.17 92.30,288.72 85.90,288.72" fill="#fff" stroke="#0e8e24" stroke-width="1.6" stroke-linejoin="miter"/>
<polygon points="93.50,286.17 96.70,291.72 90.30,291.72" fill="#fff" stroke="#0e8e24" stroke-width="1.6" stroke-linejoin="miter"/>
<polygon points="111.10,278.37 114.30,283.92 107.90,283.92" fill="#fff" stroke="#0e8e24" stroke-width="1.6" stroke-linejoin="miter"/>
<polygon points="117.10,282.77 120.30,288.32 113.90,288.32" fill="#fff" stroke="#0e8e24" stroke-width="1.6" stroke-linejoin="miter"/>
<polygon points="189.30,263.47 192.50,269.02 186.10,269.02" fill="#fff" stroke="#0e8e24" stroke-width="1.6" stroke-linejoin="miter"/>
<polygon points="186.60,266.56 190.10,272.62 183.10,272.62" fill="#0e8e24"/>
<text x="90.60" y="207.60" font-size="8.3" text-anchor="start" fill="#262626" stroke="#262626" stroke-width="0.15" >Monolayer hBN</text>
<text x="177.80" y="305.50" font-size="8.4" text-anchor="start" fill="#262626" stroke="#262626" stroke-width="0.15" >Graphene</text>
<rect x="328.80" y="194.20" width="209.20" height="155.20" fill="none" stroke="#4a4a4a" stroke-width="1.3"/>
<line x1="325.80" y1="322.80" x2="328.80" y2="322.80" stroke="#4a4a4a" stroke-width="1.0" />
<text x="321.50" y="327.40" font-size="10" text-anchor="end" fill="#262626" stroke="#262626" stroke-width="0.15" >0.0</text>
<line x1="325.80" y1="289.77" x2="328.80" y2="289.77" stroke="#4a4a4a" stroke-width="1.0" />
<text x="321.50" y="294.37" font-size="10" text-anchor="end" fill="#262626" stroke="#262626" stroke-width="0.15" >0.1</text>
<line x1="325.80" y1="256.74" x2="328.80" y2="256.74" stroke="#4a4a4a" stroke-width="1.0" />
<text x="321.50" y="261.34" font-size="10" text-anchor="end" fill="#262626" stroke="#262626" stroke-width="0.15" >0.2</text>
<line x1="325.80" y1="223.71" x2="328.80" y2="223.71" stroke="#4a4a4a" stroke-width="1.0" />
<text x="321.50" y="228.31" font-size="10" text-anchor="end" fill="#262626" stroke="#262626" stroke-width="0.15" >0.3</text>
<line x1="328.80" y1="349.40" x2="328.80" y2="352.90" stroke="#4a4a4a" stroke-width="1.0" />
<text x="328.80" y="364.00" font-size="9.6" text-anchor="middle" fill="#262626" stroke="#262626" stroke-width="0.15" >0</text>
<line x1="383.80" y1="349.40" x2="383.80" y2="352.90" stroke="#4a4a4a" stroke-width="1.0" />
<text x="383.80" y="364.00" font-size="9.6" text-anchor="middle" fill="#262626" stroke="#262626" stroke-width="0.15" >500</text>
<line x1="438.80" y1="349.40" x2="438.80" y2="352.90" stroke="#4a4a4a" stroke-width="1.0" />
<text x="438.80" y="364.00" font-size="9.6" text-anchor="middle" fill="#262626" stroke="#262626" stroke-width="0.15" >1000</text>
<line x1="493.80" y1="349.40" x2="493.80" y2="352.90" stroke="#4a4a4a" stroke-width="1.0" />
<text x="493.80" y="364.00" font-size="9.6" text-anchor="middle" fill="#262626" stroke="#262626" stroke-width="0.15" >1500</text>
<text x="433.50" y="379.80" font-size="9.8" text-anchor="middle" fill="#262626" stroke="#262626" stroke-width="0.15" ><tspan font-style="italic">L</tspan> (nm)</text>
<text transform="translate(298.3,273) rotate(-90)" font-size="10.6" text-anchor="middle" fill="#262626" stroke="#262626" stroke-width="0.2"><tspan font-style="italic">h</tspan><tspan font-size="7.6" dy="2.4">max</tspan><tspan dy="-2.4"> / </tspan><tspan font-style="italic">L</tspan></text>
<text x="283.80" y="189.00" font-size="10.3" text-anchor="start" fill="#262626" stroke="#262626" stroke-width="0.15" font-weight="bold">(d)</text>
<polygon points="373.30,272.75 377.10,279.33 369.50,279.33" fill="#ec5050"/>
<polygon points="391.50,265.55 395.30,272.13 387.70,272.13" fill="#ec5050"/>
<polygon points="410.90,274.75 414.70,281.33 407.10,281.33" fill="#ec5050"/>
<polygon points="415.50,276.95 419.30,283.53 411.70,283.53" fill="#ec5050"/>
<polygon points="418.70,274.25 422.50,280.83 414.90,280.83" fill="#ec5050"/>
<polygon points="429.00,277.55 432.80,284.13 425.20,284.13" fill="#ec5050"/>
<polygon points="430.90,276.45 434.70,283.03 427.10,283.03" fill="#ec5050"/>
<polygon points="459.30,284.45 463.10,291.03 455.50,291.03" fill="#ec5050"/>
<polygon points="464.70,284.05 468.50,290.63 460.90,290.63" fill="#ec5050"/>
<polygon points="473.50,285.15 477.30,291.73 469.70,291.73" fill="#ec5050"/>
<polygon points="481.50,261.75 485.30,268.33 477.70,268.33" fill="#ec5050"/>
<polygon points="517.50,277.05 521.30,283.63 513.70,283.63" fill="#ec5050"/>
<rect x="363.40" y="268.30" width="5.2" height="5.2" fill="none" stroke="#2e30a8" stroke-width="1.35"/>
<rect x="380.10" y="277.00" width="5.2" height="5.2" fill="none" stroke="#2e30a8" stroke-width="1.35"/>
<rect x="401.00" y="276.50" width="5.2" height="5.2" fill="none" stroke="#2e30a8" stroke-width="1.35"/>
<rect x="454.10" y="246.60" width="5.2" height="5.2" fill="none" stroke="#2e30a8" stroke-width="1.35"/>
<defs>
<radialGradient id="gtri" cx="0.5" cy="0.48" r="0.62">
<stop offset="0" stop-color="#089858"/><stop offset="0.45" stop-color="#52b898"/><stop offset="0.8" stop-color="#a8dcce"/><stop offset="1" stop-color="#d4f0e8"/>
</radialGradient>
<linearGradient id="gdomeb" x1="0" y1="0" x2="1" y2="0">
<stop offset="0" stop-color="#a8a8a8"/><stop offset="0.3" stop-color="#d8d8d8"/><stop offset="0.7" stop-color="#dcdcdc"/><stop offset="1" stop-color="#b0b0b0"/>
</linearGradient>
<linearGradient id="gdomec1" x1="0" y1="0" x2="1" y2="0.3">
<stop offset="0" stop-color="#505050"/><stop offset="0.12" stop-color="#7a7a7a"/><stop offset="0.45" stop-color="#999999"/><stop offset="0.8" stop-color="#8c8c8c"/><stop offset="1" stop-color="#4e4e4e"/>
</linearGradient>
<linearGradient id="gdomec2" x1="0" y1="0" x2="1" y2="0">
<stop offset="0" stop-color="#6e6e6e"/><stop offset="0.2" stop-color="#636363"/><stop offset="0.37" stop-color="#4c4c4c"/><stop offset="0.4" stop-color="#959595"/><stop offset="0.7" stop-color="#aaaaaa"/><stop offset="1" stop-color="#8a8a8a"/>
</linearGradient>
<linearGradient id="gdomed1" x1="0" y1="0" x2="1" y2="0">
<stop offset="0" stop-color="#787878"/><stop offset="0.2" stop-color="#969696"/><stop offset="0.5" stop-color="#ababab"/><stop offset="0.75" stop-color="#9a9a9a"/><stop offset="0.93" stop-color="#5e5e5e"/><stop offset="1" stop-color="#7a7a7a"/>
</linearGradient>
<linearGradient id="gdomed2" x1="0" y1="0" x2="1" y2="0">
<stop offset="0" stop-color="#2a2a2a"/><stop offset="0.2" stop-color="#4a4a4a"/><stop offset="0.42" stop-color="#c8c8c8"/><stop offset="0.6" stop-color="#a8a8a8"/><stop offset="0.85" stop-color="#8a8a8a"/><stop offset="1" stop-color="#707070"/>
</linearGradient>
</defs>
<path d="M92.9,300.7 L92.9,309 M74.7,336.1 L67,339.6 M111,336.1 L118.7,340.9" stroke="#d4d4cc" stroke-width="1.0" fill="none"/>
<polygon points="92.9,309 111,336.1 74.7,336.1" fill="url(#gtri)" stroke="#c8d4c4" stroke-width="1.0"/>
<line x1="97.8" y1="308.3" x2="113.4" y2="332.1" stroke="#1a1a1a" stroke-width="0.9"/>
<path d="M96.4,306.2 L100.4,308.9 L97.8,310.6 Z M114.8,334.2 L110.8,331.5 L113.4,329.8 Z" fill="#1a1a1a"/>
<text x="108.40" y="319.80" font-size="9.4" text-anchor="start" fill="#262626" stroke="#262626" stroke-width="0.15" font-style="italic">L</text>
<polygon points="66.4,230 113.4,240.6 189.8,233.6 152,224.5 86,223.5" fill="#c2c2c2"/>
<polygon points="66.4,230 113.4,240.6 189.8,233.6 113,237" fill="#a0a0a0" opacity="0.7"/>
<path d="M86.5,228 C88,222 93,217 100,216 C108,214.8 118,214.6 124,215 C132,216 138,218.5 141,222 C144.5,225.5 145.5,230 143.6,236 C125,236 100,232 86.5,228 Z" fill="url(#gdomec1)"/>
<path d="M87,227 C89.5,221 94,217 100,216 C96,219.5 93,224 92,229.5 Z" fill="#333" opacity="0.45"/><circle cx="142.5" cy="235.5" r="1.0" fill="#eeeeee"/><path d="M139,236 C141,232 143,228 142,222" stroke="#3a3a3a" stroke-width="1.2" fill="none" opacity="0.5"/>
<line x1="190.1" y1="216.9" x2="190.1" y2="233.3" stroke="#9a9a9a" stroke-width="0.8"/>
<text x="181.90" y="215.60" font-size="7.0" text-anchor="start" fill="#262626" stroke="#262626" stroke-width="0.15" >21 nm</text>
<text x="187.70" y="242.20" font-size="7.0" text-anchor="start" fill="#262626" stroke="#262626" stroke-width="0.15" >0 nm</text>
<text x="143.30" y="248.00" font-size="6.8" text-anchor="start" fill="#262626" stroke="#262626" stroke-width="0.15" transform="rotate(-4 154 245.6)">0.4 µm</text>
<text x="75.5" y="246.5" font-size="7.0" fill="#262626" font-style="italic" transform="rotate(6 85 244)">0.4 <tspan>μm</tspan></text>
<polygon points="134.1,330.4 185.1,335.5 241,323.7 200,320 160,322" fill="#c6c6c6"/>
<polygon points="134.1,330.4 185.1,335.5 241,323.7 185,331" fill="#d0d0d0" opacity="0.8"/>
<path d="M160.6,325.5 C163,320 166,316.5 170,314.5 C175,312 180,311.3 186,311.2 C200,311.3 208,312.3 213,313.4 C219,315 224,318 227.4,322 C210,328 196,331.5 186,335 C175,331 166,328 160.6,325.5 Z" fill="url(#gdomec2)"/>
<path d="M186.8,312.5 C187.2,320 186.8,328 186,334.5" stroke="#2a2a2a" stroke-width="0.9" fill="none" opacity="0.45"/>
<line x1="241" y1="307.3" x2="241" y2="323.7" stroke="#9a9a9a" stroke-width="0.8"/>
<text x="238.90" y="305.20" font-size="7.0" text-anchor="start" fill="#262626" stroke="#262626" stroke-width="0.15" >69 nm</text>
<text x="240.00" y="331.70" font-size="7.0" text-anchor="start" fill="#262626" stroke="#262626" stroke-width="0.15" >0 nm</text>
<text x="142.3" y="340.5" font-size="7.0" fill="#262626" font-style="italic" transform="rotate(5 155 338)">0.86 μm</text>
<text x="207.3" y="338" font-size="7.0" fill="#262626" transform="rotate(-15 218 335.5)">1.3 μm</text>
<polygon points="371,41.6 382.6,53.5 494.6,53.5 480,41" fill="#bcbcbc"/>
<path d="M388,41.3 C405,34.5 450,34 472,40.8 C476,44 478,48 475,52 L392,52.5 C386,49 384,45 388,41.3 Z" fill="url(#gdomeb)"/>
<ellipse cx="393" cy="47" rx="7" ry="3.2" fill="#8c8c8c" opacity="0.7"/>
<ellipse cx="472" cy="46.5" rx="6" ry="3.2" fill="#8c8c8c" opacity="0.6"/>
<line x1="495" y1="41.9" x2="495" y2="53.7" stroke="#9a9a9a" stroke-width="0.8"/>
<text x="488.30" y="39.30" font-size="8.2" text-anchor="start" fill="#262626" stroke="#262626" stroke-width="0.15" >100 nm</text>
<text x="489.20" y="63.30" font-size="8.2" text-anchor="start" fill="#262626" stroke="#262626" stroke-width="0.15" >0 nm</text>
<text x="430.00" y="65.50" font-size="8.2" text-anchor="start" fill="#262626" stroke="#262626" stroke-width="0.15" >1.9 µm</text>
<text x="360" y="46" font-size="8.2" fill="#262626" transform="rotate(45 360 46)">1.9 µm</text>
<polygon points="412,224.8 502.5,225.8 496,223 416,223" fill="#cfcfcf"/>
<path d="M415.2,223.8 C418.5,217 423.5,212 430,210.3 C436,207.5 442,205 446.3,204.2 L467,208 L478,212.3 C485,216 490,220 495.8,223.8 Z" fill="url(#gdomed1)"/>
<path d="M417,223.8 C440,221 470,220.5 495.8,223.8 Z" fill="#666" opacity="0.3"/>
<ellipse cx="473.5" cy="215.5" rx="2.5" ry="1.2" fill="#555" opacity="0.6"/>
<line x1="503.2" y1="206" x2="503.2" y2="225" stroke="#9a9a9a" stroke-width="0.8"/>
<text x="498.80" y="203.20" font-size="7.0" text-anchor="start" fill="#262626" stroke="#262626" stroke-width="0.15" >0.27 µm</text>
<text x="501.50" y="232.90" font-size="7.0" text-anchor="start" fill="#262626" stroke="#262626" stroke-width="0.15" >0 µm</text>
<text x="450.70" y="235.40" font-size="7.0" text-anchor="start" fill="#262626" stroke="#262626" stroke-width="0.15" >1.8 µm</text>
<text x="397" y="226" font-size="7.4" fill="#262626" stroke="#262626" stroke-width="0.15" font-style="italic" transform="rotate(22 397 226)">1.8 μm</text>
<polygon points="405,332.5 450,335.2 501,332 494,330.5 410,329.5" fill="#c4c4c4"/>
<path d="M411,330.5 L420,322 L428,317 L440,312.5 L448,310.8 L464,315 L480,323.5 L496.5,331.8 C480,333 462,334 450,334.2 C432,333.5 420,332 411,330.5 Z" fill="url(#gdomed2)" stroke-linejoin="round"/>
<path d="M411,330.5 C430,331 460,332 496.5,331.8 C480,333 462,334 450,334.2 C432,333.5 420,332 411,330.5 Z" fill="#333" opacity="0.4"/>
<line x1="505.2" y1="313.7" x2="505.2" y2="334.2" stroke="#9a9a9a" stroke-width="0.8"/>
<text x="501.00" y="310.00" font-size="7.0" text-anchor="start" fill="#262626" stroke="#262626" stroke-width="0.15" >0.24 µm</text>
<text x="503.70" y="341.90" font-size="7.0" text-anchor="start" fill="#262626" stroke="#262626" stroke-width="0.15" >0 µm</text>
<text x="453.60" y="342.70" font-size="7.0" text-anchor="start" fill="#262626" stroke="#262626" stroke-width="0.15" >1.3 µm</text>
<text x="398" y="333" font-size="7.4" fill="#262626" stroke="#262626" stroke-width="0.15" font-style="italic" transform="rotate(22 398 333)">1.3 μm</text>
<clipPath id="semclip1"><rect x="344.9" y="199.1" width="34.9" height="34.5"/></clipPath>
<linearGradient id="gsem1" x1="0" y1="0" x2="1" y2="1"><stop offset="0" stop-color="#555"/><stop offset="0.5" stop-color="#6a6a6a"/><stop offset="1" stop-color="#5a5a5a"/></linearGradient>
<rect x="344.9" y="199.1" width="34.9" height="34.5" fill="url(#gsem1)"/>
<g clip-path="url(#semclip1)">
<path d="M352.24,207.97 L366.37,204.64 Q371.92,203.34 372.87,208.07 L375.31,220.12 Q376.26,224.86 371.64,225.81 L359.89,228.25 Q355.27,229.20 353.39,224.82 L348.58,213.66 Q346.69,209.27 352.24,207.97 Z" fill="none" stroke="#d8d8d8" stroke-width="1.5" opacity="1"/>
<path d="M353.83,209.30 L365.83,206.48 Q370.54,205.37 371.35,209.39 L373.42,219.62 Q374.23,223.64 370.31,224.45 L360.33,226.52 Q356.41,227.33 354.81,223.61 L350.72,214.13 Q349.12,210.41 353.83,209.30 Z" fill="none" stroke="#1a1a1a" stroke-width="2.3" opacity="1"/>
<path d="M355.78,210.55 L364.94,208.40 Q369.16,207.40 369.89,211.01 L371.47,218.82 Q372.20,222.42 368.68,223.15 L361.06,224.73 Q357.55,225.46 356.11,222.12 L352.99,214.88 Q351.55,211.55 355.78,210.55 Z" fill="none" stroke="#e6e6e6" stroke-width="1.8" opacity="1"/>
<path d="M357.57,211.84 L364.20,210.28 Q367.79,209.43 368.41,212.50 L369.55,218.15 Q370.17,221.21 367.18,221.83 L361.67,222.97 Q358.68,223.59 357.46,220.75 L355.21,215.52 Q353.98,212.68 357.57,211.84 Z" fill="none" stroke="#1a1a1a" stroke-width="2.0" opacity="1"/>
<ellipse cx="364.2" cy="217" rx="5.2" ry="5.6" fill="#5a5a5a" stroke="#e2e2e2" stroke-width="1.6" transform="rotate(-15 364.2 217)"/>
<ellipse cx="364.4" cy="218.2" rx="3.0" ry="2.8" fill="#151515"/>
</g>
<circle cx="364.3" cy="213.5" r="1.5" fill="#f0f0f0"/>
<rect x="368" y="229" width="9.5" height="1.8" fill="#111"/>
<clipPath id="semclip2"><rect x="346.1" y="306.7" width="34.9" height="34.5"/></clipPath>
<rect x="346.1" y="306.7" width="34.9" height="34.5" fill="url(#gsem1)"/>
<g clip-path="url(#semclip2)">
<path d="M371.5,319 L381,318.6" stroke="#d0d0d0" stroke-width="1"/>
<path d="M356.84,311.30 L368.86,314.90 Q376.50,317.20 370.65,323.30 L361.45,332.90 Q355.60,339.00 353.81,330.60 L350.99,317.40 Q349.20,309.00 356.84,311.30 Z" fill="none" stroke="#d8d8d8" stroke-width="1.3" opacity="1"/>
<path d="M357.51,313.09 L367.60,316.12 Q374.02,318.05 369.10,323.18 L361.38,331.23 Q356.46,336.36 354.96,329.30 L352.59,318.22 Q351.09,311.16 357.51,313.09 Z" fill="none" stroke="#1c1c1c" stroke-width="1.9" opacity="1"/>
<path d="M358.17,314.88 L366.34,317.33 Q371.54,318.90 367.56,323.05 L361.31,329.57 Q357.33,333.72 356.11,328.01 L354.19,319.03 Q352.98,313.32 358.17,314.88 Z" fill="none" stroke="#e4e4e4" stroke-width="1.4" opacity="1"/>
<path d="M358.84,316.67 L365.09,318.55 Q369.06,319.74 366.02,322.92 L361.24,327.91 Q358.19,331.08 357.26,326.71 L355.80,319.85 Q354.86,315.48 358.84,316.67 Z" fill="none" stroke="#1c1c1c" stroke-width="1.6" opacity="1"/>
<path d="M359.50,318.47 L363.83,319.77 Q366.58,320.59 364.47,322.79 L361.16,326.24 Q359.06,328.44 358.41,325.42 L357.40,320.66 Q356.75,317.64 359.50,318.47 Z" fill="none" stroke="#cfcfcf" stroke-width="1.2" opacity="1"/>
<circle cx="361.5" cy="322.8" r="2.2" fill="none" stroke="#2a2a2a" stroke-width="1"/>
</g>
<rect x="365.2" y="336" width="12.3" height="1.8" fill="#111"/>
</svg></body></html>
